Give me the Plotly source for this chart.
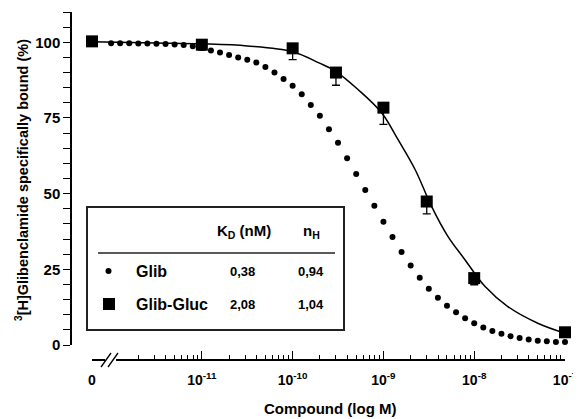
import math
import plotly.graph_objects as go

# ---------------- data ----------------
# Glib-Gluc measured points (concentration in M, 0 = no compound)
gluc_conc = [0, 1e-11, 1e-10, 3e-10, 1e-9, 3e-9, 1e-8, 1e-7]
gluc_bound = [100.3, 99.2, 98.0, 90.0, 78.4, 47.4, 22.1, 4.2]
gluc_err_low = [0.0, 1.8, 3.7, 4.2, 5.5, 4.1, 2.2, 1.5]

# Glib-Gluc fitted curve (log10 M, % bound)
gluc_fit_log = [-12.21, -11.5, -11.0, -10.5, -10.0, -9.71, -9.53, -9.28, -9.02,
                -8.84, -8.65, -8.47, -8.29, -8.10, -7.88, -7.63, -7.30, -7.0]
gluc_fit_val = [100.2, 99.8, 99.5, 98.8, 96.9, 93.2, 90.5, 84.4, 76.7,
                67.9, 57.9, 45.8, 35.9, 28.1, 19.3, 12.7, 7.2, 3.9]

# Glib fitted curve drawn as dots (log10 M, % bound)
glib_dot_log = [-12.0, -11.9, -11.8, -11.7, -11.6, -11.5, -11.4, -11.3, -11.2, -11.1,
                -11.0, -10.9, -10.8, -10.7, -10.6, -10.5, -10.4, -10.3, -10.2, -10.1,
                -10.0, -9.9, -9.8, -9.7, -9.6, -9.5, -9.4, -9.3, -9.2, -9.1,
                -9.0, -8.9, -8.8, -8.7, -8.6, -8.5, -8.4, -8.3, -8.2, -8.1,
                -8.0, -7.9, -7.8, -7.7, -7.6, -7.5, -7.4, -7.3, -7.2, -7.1, -7.0]
glib_dot_val = [99.7, 99.7, 99.7, 99.6, 99.6, 99.5, 99.4, 99.3, 99.1, 98.7,
                98.1, 97.3, 96.6, 95.8, 95.0, 94.2, 93.3, 91.8, 90.0, 87.9,
                85.6, 82.8, 79.3, 75.7, 71.3, 66.8, 61.7, 56.5, 51.2, 46.0,
                40.7, 35.7, 30.7, 26.3, 22.2, 18.6, 15.6, 13.0, 10.8, 8.8,
                7.2, 5.8, 4.6, 3.7, 2.9, 2.3, 1.8, 1.4, 1.2, 1.0, 1.0]

# x tick labels
x_tick_exps = [-11, -10, -9, -8, -7]
x_tick_text = ["0", "10<sup>-11</sup>", "10<sup>-10</sup>", "10<sup>-9</sup>",
               "10<sup>-8</sup>", "10<sup>-7</sup>"]
y_major = [0, 25, 50, 75, 100]

# inset table
table_names = ["Glib", "Glib-Gluc"]
table_kd = ["0,38", "2,08"]
table_nh = ["0,94", "1,04"]

x_title = "Compound (log M)"
y_title = "<sup>3</sup>[H]Glibenclamide specifically bound (%)"

# ---------------- layout helpers ----------------
# Screen geometry (the page body has an 8px default margin)
SCREEN_W, SCREEN_H = 581, 419
OFF = 8
W, H = SCREEN_W - OFF, SCREEN_H - OFF
AX_LEFT, AX_RIGHT, AX_TOP, AX_BOTTOM = 71, 565, 12, 360   # screen pixels
ML, MR = AX_LEFT - OFF, SCREEN_W - AX_RIGHT
MT, MB = AX_TOP - OFF, SCREEN_H - AX_BOTTOM
PW, PH = AX_RIGHT - AX_LEFT, AX_BOTTOM - AX_TOP
ZERO_POS = -12.21          # where "0" concentration is drawn on the log axis


def px(x):
    return (x - AX_LEFT) / PW


def py(y):
    return (AX_BOTTOM - y) / PH


def conc_to_x(c):
    return ZERO_POS if c == 0 else math.log10(c)


FONT = "Liberation Sans, Arial, sans-serif"

fig = go.Figure()

fig.add_trace(go.Scatter(
    x=glib_dot_log, y=glib_dot_val, mode="markers",
    marker=dict(size=6, color="black"), cliponaxis=False, showlegend=False))

fig.add_trace(go.Scatter(
    x=gluc_fit_log, y=gluc_fit_val, mode="lines", line_shape="spline",
    line=dict(color="black", width=1.5), cliponaxis=False, showlegend=False))

fig.add_trace(go.Scatter(
    x=[conc_to_x(c) for c in gluc_conc], y=gluc_bound, mode="markers",
    marker=dict(symbol="square", size=12, color="black"),
    error_y=dict(type="data", symmetric=False,
                 array=[0] * len(gluc_err_low), arrayminus=gluc_err_low,
                 color="black", thickness=1.3, width=4),
    cliponaxis=False, showlegend=False))

minor_x = []
for d in range(-12, -7):
    for m in range(2, 10):
        minor_x.append(d + math.log10(m))

fig.update_layout(
    width=W, height=H,
    margin=dict(l=ML, r=MR, t=MT, b=MB, autoexpand=False),
    paper_bgcolor="white", plot_bgcolor="white",
    font=dict(family=FONT, color="black", size=14),
    xaxis=dict(
        domain=[px(92), 1], range=[ZERO_POS, -7], anchor="free", position=0,
        automargin=False,
        showline=True, linecolor="black", linewidth=1.5, showgrid=False, zeroline=False,
        ticks="inside", ticklen=8, tickwidth=1.3, tickcolor="black",
        tickvals=[ZERO_POS] + x_tick_exps, ticktext=x_tick_text,
        tickfont=dict(family=FONT, size=14, weight="bold"),
        ticklabelstandoff=7,
        minor=dict(tickvals=minor_x, ticks="inside", ticklen=4, tickwidth=1.2,
                   tickcolor="black"),
    ),
    yaxis=dict(
        domain=[py(345), 1], range=[0, 110], anchor="free", position=0,
        automargin=False,
        showline=True, linecolor="black", linewidth=1.5, showgrid=False, zeroline=False,
        ticks="outside", ticklen=7, tickwidth=1.3, tickcolor="black",
        tickvals=y_major, ticktext=[str(v) for v in y_major],
        tickfont=dict(family=FONT, size=15, weight="bold"),
        minor=dict(tickvals=[v for v in range(5, 111, 5) if v not in y_major],
                   ticks="outside", ticklen=7, tickwidth=1.3, tickcolor="black"),
    ),
)

shapes = []
# axis break
shapes.append(dict(type="rect", xref="paper", yref="paper",
                   x0=px(105), x1=px(116), y0=py(363), y1=py(357),
                   fillcolor="white", line=dict(width=0), layer="above"))
shapes.append(dict(type="line", xref="paper", yref="paper",
                   x0=px(101), y0=py(367), x1=px(111), y1=py(353),
                   line=dict(color="black", width=1.3), layer="above"))
shapes.append(dict(type="line", xref="paper", yref="paper",
                   x0=px(108), y0=py(367), x1=px(118), y1=py(353),
                   line=dict(color="black", width=1.3), layer="above"))
# inset table box
shapes.append(dict(type="rect", xref="paper", yref="paper",
                   x0=px(87), x1=px(344), y0=py(330), y1=py(207),
                   fillcolor="white", line=dict(color="#222", width=2), layer="above"))
shapes.append(dict(type="line", xref="paper", yref="paper",
                   x0=px(98), x1=px(335), y0=py(253), y1=py(253),
                   line=dict(color="#222", width=1.5), layer="above"))
# table symbols
shapes.append(dict(type="circle", xref="paper", yref="paper",
                   x0=px(105.5), x1=px(111.5), y0=py(274), y1=py(268),
                   fillcolor="black", line=dict(width=0), layer="above"))
shapes.append(dict(type="rect", xref="paper", yref="paper",
                   x0=px(103), x1=px(115), y0=py(310), y1=py(298),
                   fillcolor="black", line=dict(width=0), layer="above"))
fig.update_layout(shapes=shapes)


def label(text, x, y, size, xanchor="center", angle=0):
    return dict(text=text, x=px(x), y=py(y), xref="paper", yref="paper",
                xanchor=xanchor, yanchor="middle", textangle=angle,
                showarrow=False, font=dict(family=FONT, size=size, weight="bold"))


ann = [label("K<sub>D</sub> (nM)", 244, 231, 15),
       label("n<sub>H</sub>", 311, 231, 15)]
row_y = [271, 304]
for name, kd, nh, ry in zip(table_names, table_kd, table_nh, row_y):
    ann.append(label(name, 134, ry, 16, xanchor="left"))
    ann.append(label(kd, 242, ry, 13))
    ann.append(label(nh, 311, ry, 13))
# axis titles
ann.append(label(x_title, 330, 408, 15))
ann.append(label(y_title, 22, 180, 14.5, angle=-90))
fig.update_layout(annotations=ann)

fig.write_html("out.html")
